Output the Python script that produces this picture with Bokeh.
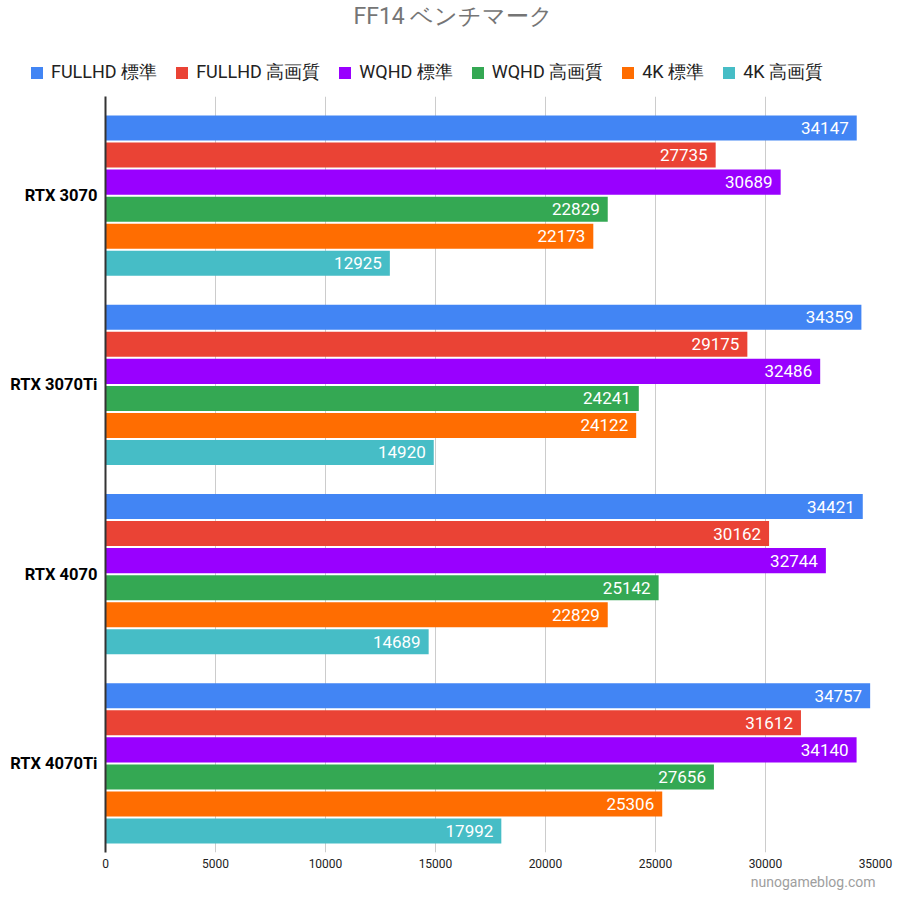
from bokeh.plotting import figure
from bokeh.models import ColumnDataSource, FixedTicker, Legend, LegendItem, Title, Range1d
from bokeh.transform import dodge
from bokeh.core.properties import value
from bokeh.embed import file_html
from bokeh.resources import INLINE

gpus = ["RTX 3070", "RTX 3070Ti", "RTX 4070", "RTX 4070Ti"]
series_names = ["FULLHD 標準", "FULLHD 高画質", "WQHD 標準", "WQHD 高画質", "4K 標準", "4K 高画質"]
fullhd_std = [34147, 34359, 34421, 34757]
fullhd_high = [27735, 29175, 30162, 31612]
wqhd_std = [30689, 32486, 32744, 34140]
wqhd_high = [22829, 24241, 25142, 27656]
k4_std = [22173, 24122, 22829, 25306]
k4_high = [12925, 14920, 14689, 17992]
colors = ["#4285F4", "#EA4335", "#9900FF", "#34A853", "#FF6D01", "#46BDC6"]
x_ticks = [0, 5000, 10000, 15000, 20000, 25000, 30000, 35000]

all_series = [fullhd_std, fullhd_high, wqhd_std, wqhd_high, k4_std, k4_high]

FONT = "Roboto"

# group positions: first GPU at the top
pos = [len(gpus) - 1 - k for k in range(len(gpus))]

data = {"cat": gpus, "pos": pos}
for i, s in enumerate(all_series):
    data[f"s{i}"] = s
    data[f"l{i}"] = [str(v) for v in s]
source = ColumnDataSource(data)

# ---- header figure: title + legend (legend renderers sit outside its visible ranges) ----
top = figure(width=900, height=96, output_backend="svg", toolbar_location=None,
             x_range=Range1d(-2, -1), y_range=Range1d(-20, -10),
             min_border_left=0, min_border_right=0, min_border_top=4, min_border_bottom=0,
             outline_line_color=None, background_fill_color="white")
top.axis.visible = False
top.grid.visible = False
top.title = Title(text="FF14 ベンチマーク", align="left", offset=353, text_font=FONT,
                  text_font_size="23px", text_font_style="normal", text_color="#757575",
                  standoff=0)

# ---- chart figure ----
band_px = 189.0
p = figure(
    y_range=Range1d(-89.0 / band_px, (len(gpus) - 1) + 99.0 / band_px),
    x_range=(0, 35000),
    width=900, height=804,
    output_backend="svg", toolbar_location=None,
    min_border_left=105, min_border_right=25, min_border_top=0, min_border_bottom=48,
    outline_line_color=None, background_fill_color="white",
)

pitch = 1.0 / 7.0
bar_h = pitch - 2.0 / band_px

items = []
for i in range(6):
    off = (2.5 - i) * pitch
    p.hbar(y=dodge("pos", off), right=f"s{i}", left=0, height=bar_h,
           source=source, fill_color=colors[i], line_color=None)
    p.text(x=f"s{i}", y=dodge("pos", off), text=f"l{i}", source=source,
           text_align="right", text_baseline="middle", x_offset=-8,
           text_color="white", text_font=value("Roboto"), text_font_size="17px")
    lr = top.hbar(y="pos", right=f"s{i}", left=0, height=0.5, source=source,
                  fill_color=colors[i], line_color=None)
    items.append(LegendItem(label=series_names[i], renderers=[lr]))

legend = Legend(items=items, orientation="horizontal", location=(29, 12),
                label_text_font=FONT, label_text_font_size="18px", label_text_color="#222222",
                glyph_width=15, glyph_height=15, label_standoff=7, spacing=17,
                border_line_color=None, background_fill_alpha=0, padding=0, margin=0,
                label_height=20)
top.add_layout(legend, "center")

wm = Title(text="nunogameblog.com", align="right", text_font="Roboto", text_font_size="14px",
           text_font_style="normal", text_color="#9E9E9E", standoff=2)
p.add_layout(wm, "below")

p.xaxis.ticker = FixedTicker(ticks=x_ticks)
p.xaxis.axis_line_color = None
p.xaxis.major_tick_line_color = None
p.xaxis.major_tick_out = 0
p.xaxis.major_tick_in = 0
p.xaxis.minor_tick_line_color = None
p.xaxis.major_label_text_font = "Roboto"
p.xaxis.major_label_text_font_size = "12px"
p.xaxis.major_label_text_color = "#222222"
p.xaxis.major_label_standoff = 6

p.yaxis.ticker = FixedTicker(ticks=pos)
p.yaxis.major_label_overrides = {k: name for k, name in zip(pos, gpus)}
p.yaxis.axis_line_color = "#333333"
p.yaxis.axis_line_width = 2
p.yaxis.major_tick_line_color = None
p.yaxis.major_tick_out = 0
p.yaxis.major_tick_in = 0
p.yaxis.minor_tick_line_color = None
p.yaxis.major_label_text_font = "Roboto"
p.yaxis.major_label_text_font_size = "16.5px"
p.yaxis.major_label_text_font_style = "bold"
p.yaxis.major_label_text_color = "#000000"
p.yaxis.major_label_standoff = 8

p.xgrid.grid_line_color = "#CCCCCC"
p.xgrid.ticker = FixedTicker(ticks=x_ticks)
p.ygrid.grid_line_color = None

open("out.html", "w").write(file_html([top, p], INLINE))
